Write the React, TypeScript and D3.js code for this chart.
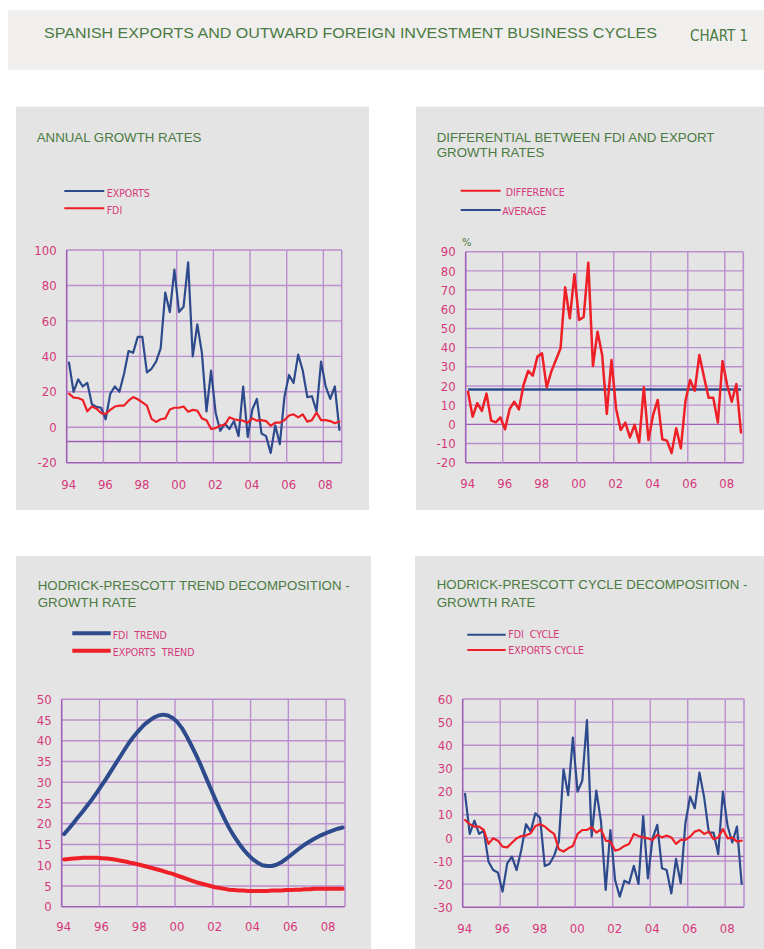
import React from 'react';
import * as d3 from 'd3';

// quarterly data 1994Q1 - 2008Q4
const yearLabels = ['94', '96', '98', '00', '02', '04', '06', '08'];

const exportsGrowth = [
  36.5, 20, 27, 23, 25, 13, 11.5, 11, 4.5, 18.8,
  23, 20, 30, 43, 42, 51, 51, 31, 33, 37,
  44.5, 76, 65, 89, 65, 68, 93, 40, 58, 42,
  9, 32, 8, -2, 2, -1, 3.5, -5, 23, -5.5,
  10, 16, -3.5, -5, -14.5, 1, -9.5, 17, 29.5, 25,
  41, 32, 17, 17.5, 9, 37, 23, 16, 23, -1.5,
];
const fdiGrowth = [
  19, 16.7, 16.5, 15.4, 9, 11.7, 10.5, 8, 7.5, 9.8,
  11.7, 12.2, 12.2, 15, 17, 15.8, 14, 12.2, 4.7, 3,
  4.5, 5, 10, 11, 11, 11.7, 8.8, 9.8, 9.4, 5,
  4, -1, -0.5, 1, 1.3, 5.6, 4.5, 4, 3.7, 2.6,
  5, 3.7, 4, 3.5, 0.8, 2.6, 2.6, 4, 6.6, 7.3,
  5.6, 7.3, 3.2, 4, 8.3, 4, 4, 3.5, 2.3, 3.2,
];
const difference = [
  17, 4, 11, 7, 16, 2, 1, 3.6, -2.6, 8,
  11.8, 7.8, 20.5, 27.8, 25.4, 35.3, 37, 19.3, 27.5, 33.5,
  39.6, 71.4, 55.3, 78.2, 54.4, 56, 84.3, 30.4, 48.3, 36,
  5.4, 33.5, 8.3, -3, 0.9, -6.8, -0.3, -9.4, 19.3, -8.2,
  4.9, 12.7, -7.8, -8.5, -15, -2, -12.5, 12.2, 23.1, 17.5,
  36.1, 24.8, 13.9, 13.9, 0.9, 33, 20.5, 11.8, 21, -4.2,
];
const averageDifference = 18.2;
const fdiTrend = [
  17.5, 18.8, 20.2, 21.6, 23.0, 24.5, 26.0, 27.6, 29.3, 31.0,
  32.8, 34.6, 36.4, 38.2, 39.9, 41.4, 42.7, 43.9, 44.8, 45.6,
  46.1, 46.3, 46.1, 45.5, 44.5, 43.0, 41.0, 38.8, 36.5, 34.0,
  31.3, 28.6, 26.0, 23.5, 21.1, 18.9, 17.0, 15.3, 13.8, 12.5,
  11.4, 10.6, 10.0, 9.8, 9.8, 10.1, 10.7, 11.5, 12.4, 13.3,
  14.2, 15.0, 15.7, 16.4, 17.0, 17.5, 18.0, 18.4, 18.8, 19.1,
];
const exportsTrend = [
  11.4, 11.5, 11.6, 11.7, 11.8, 11.8, 11.8, 11.8, 11.7, 11.6,
  11.5, 11.3, 11.1, 10.9, 10.6, 10.4, 10.1, 9.8, 9.5, 9.2,
  8.9, 8.6, 8.2, 7.9, 7.5, 7.1, 6.7, 6.3, 5.9, 5.6,
  5.3, 5.0, 4.7, 4.5, 4.3, 4.1, 4.0, 3.9, 3.9, 3.8,
  3.8, 3.8, 3.8, 3.8, 3.9, 3.9, 3.9, 4.0, 4.0, 4.1,
  4.1, 4.2, 4.2, 4.3, 4.3, 4.3, 4.3, 4.3, 4.3, 4.3,
];
const fdiCycle = [
  19, 1.7, 7.4, 1.7, 3.1, -10.3, -13.9, -15, -23.2, -11,
  -8.1, -13.9, -5.2, 5.9, 2.7, 10.6, 8.7, -12.1, -11.3, -7.7,
  -1.6, 29.6, 18.5, 43.3, 20, 24.7, 50.9, 0.5, 20.4, 7,
  -22.5, 3.4, -18.2, -25.4, -18.5, -19.6, -12.1, -19.9, 9.4, -17.5,
  -0.2, 5.6, -13.1, -13.9, -24, -9.1, -19.6, 6.3, 17.8, 12.8,
  28.2, 17.5, 2.3, 2.3, -7, 20, 5.1, -2, 4.9, -19.9,
];
const exportsCycle = [
  7.7, 5.9, 4.9, 4.9, 3.4, -2.6, -0.2, -1.2, -3.8, -4.1,
  -2.1, -0.2, 0.8, 1, 2, 5.1, 5.9, 4.9, 3.1, 1.7,
  -4.9, -5.9, -4.5, -3.5, 1.7, 3.4, 3.4, 4.6, 2.3, 3.7,
  -1.2, -1.6, -5.5, -4.9, -3.5, -2.6, 1.7, 0.8, 0.2, -0.2,
  -0.9, 1.3, 0.2, 1, 0.2, -2.6, -0.9, -0.9, 0.5, 2.7,
  3.4, 1.7, 2.7, -0.6, 0.1, 3.8, -0.2, 0.1, -1.6, -1.2,
];

const BLUE = '#2d4b8c';
const RED = '#ee1f26';
const GREEN = '#4b7a42';
const PINK = '#d6387a';
const GRID = '#bb8fcd';
const AXIS = '#9f5fb7';
const PANEL = '#e4e4e4';
const sans = '"Liberation Sans", Arial, sans-serif';
const cond = '"DejaVu Sans Condensed", "DejaVu Sans", sans-serif';

type Series = { values: number[]; color: string; width: number };
type Legend = { label: string; color: string; textX: number; lineY: number; textY: number };

function Panel(props: {
  box: [number, number, number, number];
  plot: { left: number; right: number; top: number; bottom: number };
  titleX: number;
  titleLines: { text: string; y: number }[];
  legendX: [number, number];
  legendWidth: number;
  legend: Legend[];
  yMin: number;
  yMax: number;
  yStep: number;
  refLine?: number;
  darkZero?: boolean;
  series: Series[];
  level?: { value: number; color: string; width: number };
  percent?: { x: number; y: number };
  labelY: number;
}) {
  const { box, plot, yMin, yMax, yStep } = props;
  const x = d3.scaleLinear().domain([1994, 2009]).range([plot.left, plot.right]);
  const y = d3.scaleLinear().domain([yMin, yMax]).range([plot.bottom, plot.top]);
  const qx = (i: number) => x(1994 + (i + 0.5) / 4);
  const line = d3.line<number>().x((_, i) => qx(i)).y((d) => y(d));
  const yTicks = d3.range(yMin, yMax + yStep / 2, yStep);
  const gridYears = d3.range(1996, 2009, 2);

  return (
    <g>
      <rect x={box[0]} y={box[1]} width={box[2]} height={box[3]} fill={PANEL} />
      {props.titleLines.map((t) => (
        <text key={t.text} x={props.titleX} y={t.y} fill={GREEN} fontFamily={sans} fontSize={13.3}>
          {t.text}
        </text>
      ))}
      {props.legend.map((l) => (
        <g key={l.label}>
          <line x1={props.legendX[0]} x2={props.legendX[1]} y1={l.lineY} y2={l.lineY}
            stroke={l.color} strokeWidth={props.legendWidth} />
          <text x={l.textX} y={l.textY} fill={PINK} fontFamily={cond} fontSize={10.5}
            style={{ whiteSpace: 'pre' }}>
            {l.label}
          </text>
        </g>
      ))}
      {props.percent && (
        <text x={props.percent.x} y={props.percent.y} fill={GREEN} fontFamily={cond} fontSize={11}>%</text>
      )}
      {yTicks.map((t) => (
        <line key={'h' + t} x1={plot.left} x2={plot.right} y1={y(t)} y2={y(t)}
          stroke={t === yMin || (props.darkZero && t === 0) ? AXIS : GRID} strokeWidth={1.4} />
      ))}
      {gridYears.map((yr) => (
        <line key={'v' + yr} x1={x(yr)} x2={x(yr)} y1={plot.top} y2={plot.bottom}
          stroke={GRID} strokeWidth={1.4} />
      ))}
      <line x1={plot.right} x2={plot.right} y1={plot.top} y2={plot.bottom} stroke={GRID} strokeWidth={1.6} />
      <line x1={plot.left} x2={plot.left} y1={plot.top} y2={plot.bottom} stroke={AXIS} strokeWidth={1.6} />
      {props.refLine !== undefined && (
        <line x1={plot.left} x2={plot.right} y1={y(props.refLine)} y2={y(props.refLine)}
          stroke={AXIS} strokeWidth={1.4} />
      )}
      {props.level && (
        <line x1={qx(0)} x2={qx(59)} y1={y(props.level.value)} y2={y(props.level.value)}
          stroke={props.level.color} strokeWidth={props.level.width} />
      )}
      {props.series.map((s, k) => (
        <path key={k} d={line(s.values) || ''} fill="none" stroke={s.color}
          strokeWidth={s.width} strokeLinejoin="round" strokeLinecap="round" />
      ))}
      {yTicks.map((t) => (
        <text key={'yl' + t} x={plot.left - 10} y={y(t)} dy="0.36em" textAnchor="end"
          fill={PINK} fontFamily={cond} fontSize={13}>
          {t}
        </text>
      ))}
      {yearLabels.map((lab, i) => (
        <text key={lab} x={x(1994 + i * 2) + 2} y={props.labelY} textAnchor="middle"
          fill={PINK} fontFamily={cond} fontSize={13}>
          {lab}
        </text>
      ))}
    </g>
  );
}

export default function App() {
  return (
    <svg width={764} height={949} style={{ position: 'absolute', left: 0, top: 0, background: '#fff' }}>
      <rect x={8} y={10} width={756} height={60} fill="#f0efee" />
      <text x={44} y={38} fill={GREEN} fontFamily={sans} fontSize={15.5} textLength={613}
        lengthAdjust="spacingAndGlyphs">
        SPANISH EXPORTS AND OUTWARD FOREIGN INVESTMENT BUSINESS CYCLES
      </text>
      <text x={690} y={40.7} fill={GREEN} fontFamily={cond} fontSize={15}>CHART 1</text>

      <Panel
        box={[16, 106.7, 353, 403.3]}
        plot={{ left: 66.7, right: 341.7, top: 250, bottom: 462.7 }}
        titleX={36.7}
        titleLines={[{ text: 'ANNUAL GROWTH RATES', y: 142 }]}
        legendX={[64.3, 104.3]}
        legendWidth={2}
        legend={[
          { label: 'EXPORTS', color: BLUE, textX: 106.7, lineY: 191, textY: 196.5 },
          { label: 'FDI', color: RED, textX: 106.7, lineY: 208.3, textY: 213.5 },
        ]}
        yMin={-20} yMax={100} yStep={20}
        refLine={-8}
        series={[
          { values: exportsGrowth, color: BLUE, width: 2.2 },
          { values: fdiGrowth, color: RED, width: 2.2 },
        ]}
        labelY={489}
      />

      <Panel
        box={[416, 106.7, 348, 403.3]}
        plot={{ left: 465.7, right: 743.3, top: 251.7, bottom: 462.7 }}
        titleX={436.7}
        titleLines={[
          { text: 'DIFFERENTIAL BETWEEN FDI AND EXPORT', y: 141.7 },
          { text: 'GROWTH RATES', y: 156.7 },
        ]}
        legendX={[460.7, 500.7]}
        legendWidth={2}
        legend={[
          { label: 'DIFFERENCE', color: RED, textX: 505.7, lineY: 190.7, textY: 195.7 },
          { label: 'AVERAGE', color: BLUE, textX: 502.3, lineY: 210, textY: 215 },
        ]}
        yMin={-20} yMax={90} yStep={10}
        darkZero
        level={{ value: averageDifference, color: BLUE, width: 2.5 }}
        series={[{ values: difference, color: RED, width: 2.5 }]}
        percent={{ x: 462, y: 246 }}
        labelY={488}
      />

      <Panel
        box={[16, 556, 355, 393]}
        plot={{ left: 61.7, right: 345, top: 699.3, bottom: 906.7 }}
        titleX={37.7}
        titleLines={[
          { text: 'HODRICK-PRESCOTT TREND DECOMPOSITION -', y: 590 },
          { text: 'GROWTH RATE', y: 606.7 },
        ]}
        legendX={[72.3, 110.7]}
        legendWidth={4}
        legend={[
          { label: 'FDI  TREND', color: BLUE, textX: 112.7, lineY: 633.3, textY: 639 },
          { label: 'EXPORTS  TREND', color: RED, textX: 112.7, lineY: 650.7, textY: 655.7 },
        ]}
        yMin={0} yMax={50} yStep={5}
        series={[
          { values: fdiTrend, color: BLUE, width: 4 },
          { values: exportsTrend, color: RED, width: 4 },
        ]}
        labelY={931}
      />

      <Panel
        box={[415, 556, 349, 393]}
        plot={{ left: 462.7, right: 744, top: 699, bottom: 907.3 }}
        titleX={436.7}
        titleLines={[
          { text: 'HODRICK-PRESCOTT CYCLE DECOMPOSITION -', y: 589.3 },
          { text: 'GROWTH RATE', y: 606.7 },
        ]}
        legendX={[467.3, 505.7]}
        legendWidth={2}
        legend={[
          { label: 'FDI  CYCLE', color: BLUE, textX: 508.3, lineY: 634.7, textY: 638.3 },
          { label: 'EXPORTS CYCLE', color: RED, textX: 508.3, lineY: 650, textY: 654 },
        ]}
        yMin={-30} yMax={60} yStep={10}
        refLine={-8}
        series={[
          { values: fdiCycle, color: BLUE, width: 2.2 },
          { values: exportsCycle, color: RED, width: 2.2 },
        ]}
        labelY={932.5}
      />
    </svg>
  );
}
